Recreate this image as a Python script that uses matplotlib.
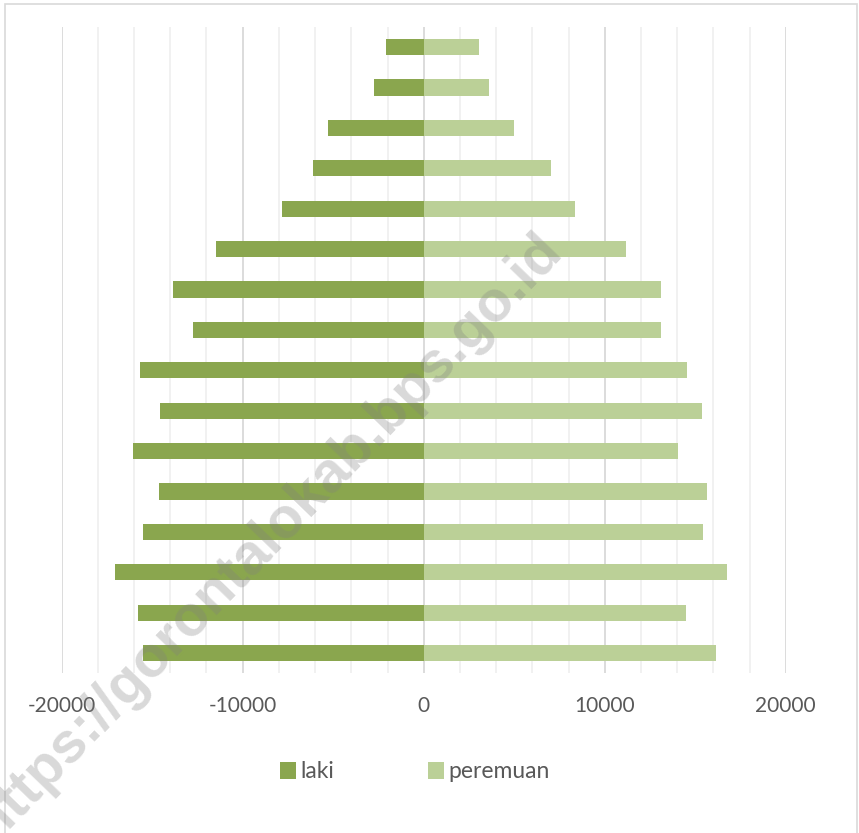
import numpy as np
import matplotlib
matplotlib.use("Agg")
import matplotlib.pyplot as plt
from matplotlib.patches import Rectangle

plt.rcParams["axes.unicode_minus"] = False

# age groups, bottom (youngest) to top (oldest)
AGE_GROUPS = ["0-4", "5-9", "10-14", "15-19", "20-24", "25-29", "30-34",
              "35-39", "40-44", "45-49", "50-54", "55-59", "60-64",
              "65-69", "70-74", "75+"]
LAKI = [15490, 15760, 17070, 15490, 14620, 16080, 14550, 15670,
        12720, 13870, 11490, 7810, 6110, 5280, 2740, 2080]
PEREMPUAN = [16170, 14480, 16740, 15450, 15650, 14030, 15370, 14560,
             13090, 13130, 11160, 8360, 7040, 4990, 3630, 3080]
SERIES_NAMES = ["laki", "peremuan"]
XTICKS = [-20000, -10000, 0, 10000, 20000]

COL_LAKI = "#8aa64e"
COL_PERE = "#bbd097"
TEXT_COL = "#595959"
FONT = ["Lato", "DejaVu Sans"]

W, H = 859, 833
fig = plt.figure(figsize=(W / 100, H / 100), dpi=100)

# plot area in pixels
x0, x1 = 61.7, 785.7
y0, y1 = 26.8, 673.4
ax = fig.add_axes([x0 / W, 1 - y1 / H, (x1 - x0) / W, (y1 - y0) / H])

pos = np.arange(len(AGE_GROUPS))
ax.barh(pos, -np.array(LAKI), height=0.4, color=COL_LAKI, label=SERIES_NAMES[0], zorder=3)
ax.barh(pos, PEREMPUAN, height=0.4, color=COL_PERE, label=SERIES_NAMES[1], zorder=3)

ax.set_xlim(-20000, 20000)
ax.set_ylim(-0.5, len(AGE_GROUPS) - 0.5)
ax.set_yticks([])
ax.set_xticks(XTICKS)
ax.set_xticks(np.arange(-20000, 20001, 2000), minor=True)
ax.grid(axis="x", which="major", color="#d9d9d9", lw=1.3, zorder=0)
ax.grid(axis="x", which="minor", color="#f0f0f0", lw=1.3, zorder=0)
ax.tick_params(axis="x", which="both", length=0, pad=16, labelsize=15,
               labelcolor=TEXT_COL)
for lbl in ax.get_xticklabels():
    lbl.set_family(FONT)
for s in ax.spines.values():
    s.set_visible(False)

# legend
leg = fig.legend(loc="center", bbox_to_anchor=(415 / W, 1 - 772 / H), ncol=2,
                 frameon=False, handlelength=0.7, handleheight=0.7,
                 handletextpad=0.2, columnspacing=4.1,
                 prop={"family": FONT, "size": 16.5})
for t in leg.get_texts():
    t.set_color(TEXT_COL)

# chart border
fig.patches.append(Rectangle((5 / W, -0.01), (857 - 5) / W, 1 - 4 / H + 0.01,
                             transform=fig.transFigure, fill=False,
                             edgecolor="#d9d9d9", lw=1.2))

# watermark
fig.text(268 / W, 1 - 537 / H, "https://gorontalokab.bps.go.id",
         family="Liberation Sans", fontweight="bold", fontsize=41,
         color="grey", alpha=0.3, rotation=46, rotation_mode="anchor",
         ha="center", va="center", zorder=10)

fig.savefig("out.png", dpi=100)
